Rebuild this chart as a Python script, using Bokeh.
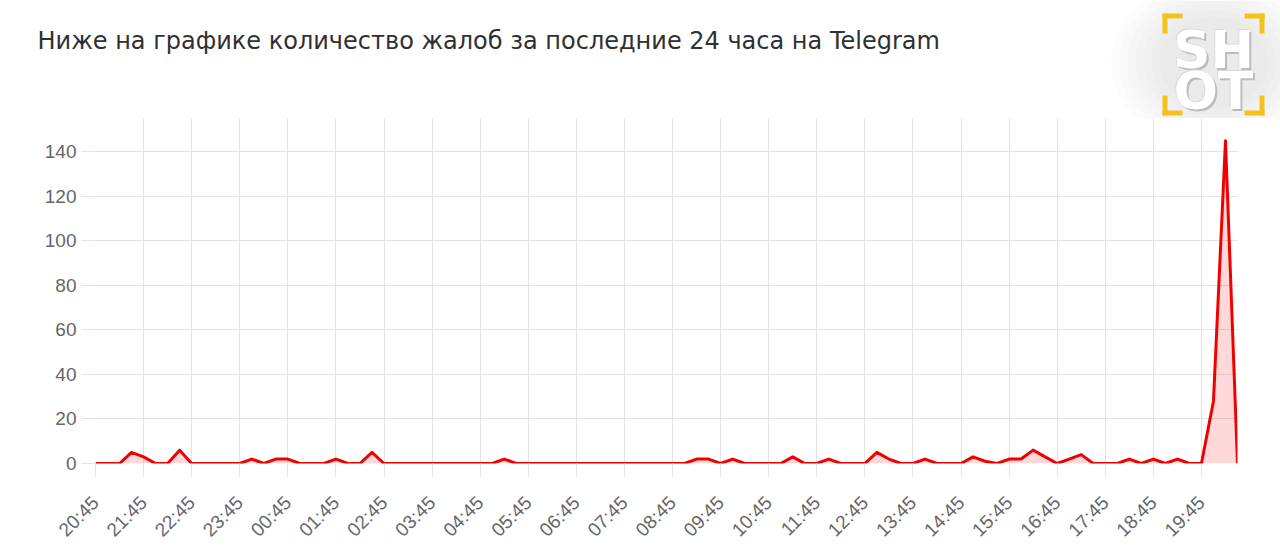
import math
from bokeh.plotting import figure
from bokeh.layouts import column
from bokeh.models import Label, FixedTicker, Range1d, ColumnDataSource
from bokeh.embed import file_html
from bokeh.resources import INLINE

# ---------------- data ----------------
title_text = "Ниже на графике количество жалоб за последние 24 часа на Telegram"
logo_lines = ["SH", "OT"]

hour_labels = ["20:45", "21:45", "22:45", "23:45", "00:45", "01:45", "02:45", "03:45",
               "04:45", "05:45", "06:45", "07:45", "08:45", "09:45", "10:45", "11:45",
               "12:45", "13:45", "14:45", "15:45", "16:45", "17:45", "18:45", "19:45"]

# complaints per 15-minute step, starting 20:45
complaints = [0, 0, 0, 5, 3, 0, 0, 6,        # 20:45 - 22:30
              0, 0, 0, 0, 0, 2, 0, 2,        # 22:45 - 00:30
              2, 0, 0, 0, 2, 0, 0, 5,        # 00:45 - 02:30
              0, 0, 0, 0, 0, 0, 0, 0,        # 02:45 - 04:30
              0, 0, 2, 0, 0, 0, 0, 0,        # 04:45 - 06:30
              0, 0, 0, 0, 0, 0, 0, 0,        # 06:45 - 08:30
              0, 0, 2, 2, 0, 2, 0, 0,        # 08:45 - 10:30
              0, 0, 3, 0, 0, 2, 0, 0,        # 10:45 - 12:30
              0, 5, 2, 0, 0, 2, 0, 0,        # 12:45 - 14:30
              0, 3, 1, 0, 2, 2, 6, 3,        # 14:45 - 16:30
              0, 2, 4, 0, 0, 0, 2, 0,        # 16:45 - 18:30
              2, 0, 2, 0, 0, 28, 145, 0]     # 18:45 - 20:30

steps_per_hour = 4
y_ticks = [0, 20, 40, 60, 80, 100, 120, 140]

W = 1280
HEAD_H = 118
CHART_H = 550 - HEAD_H

# ---------------- header: title + logo (pixel coordinates, y downwards) ----------------
head = figure(width=W, height=HEAD_H, output_backend="svg", toolbar_location=None,
              x_range=Range1d(0, W), y_range=Range1d(HEAD_H, 0),
              x_axis_type=None, y_axis_type=None,
              min_border_left=0, min_border_right=0, min_border_top=0, min_border_bottom=0)
head.frame_align = False
head.outline_line_color = None
head.grid.visible = False
head.background_fill_color = "white"
head.border_fill_color = "white"

head.add_layout(Label(x=37, y=40, text=title_text, text_font="DejaVu Sans",
                      text_font_size="24px", text_color="#303030",
                      text_baseline="alphabetic"))

# soft grey glow behind the logo
cx, cy = 1213, 62
for k in range(7):
    head.ellipse(x=cx, y=cy, width=205 - k * 16, height=170 - k * 13,
                 fill_color="black", fill_alpha=0.012, line_color=None)

# yellow corner brackets
YEL = "#f3c21b"
L, T = 20, 5
x0, x1, y0, y1 = 1162, 1264, 13, 115
arms_left = [x0, x0, x1 - L, x1 - T, x0, x0, x1 - L, x1 - T]
arms_right = [x0 + L, x0 + T, x1, x1, x0 + L, x0 + T, x1, x1]
arms_top = [y0, y0, y0, y0, y1 - T, y1 - L, y1 - T, y1 - L]
arms_bottom = [y0 + T, y0 + L, y0 + T, y0 + L, y1, y1, y1, y1]
head.quad(left=arms_left, right=arms_right, top=arms_top, bottom=arms_bottom,
          fill_color=YEL, line_color=None)

for txt, base in zip(logo_lines, (49, 90)):
    for dx, dy, col in ((2, 2, "#bcbcbc"), (-1, -1, "#dadada"), (0, 0, "white")):
        head.add_layout(Label(x=1213 + dx, y=base + dy, text=txt, text_font="DejaVu Sans",
                              text_font_style="bold", text_font_size="52px",
                              text_color=col, text_align="center",
                              text_baseline="alphabetic"))

# ---------------- chart ----------------
steps = list(range(len(complaints)))
src = ColumnDataSource(dict(x=steps, y=complaints, base=[0] * len(complaints)))

GRID = "#e3e3e3"
LABEL_FONT = "Liberation Sans"

p = figure(width=W, height=CHART_H, output_backend="svg", toolbar_location=None,
           x_range=Range1d(0, len(complaints) - 1), y_range=Range1d(0, 155),
           min_border_left=95, min_border_right=43, min_border_top=0, min_border_bottom=84)
p.frame_align = False
p.outline_line_color = None
p.background_fill_color = "white"
p.border_fill_color = "white"

x_ticks = [i * steps_per_hour for i in range(len(hour_labels))]
p.xaxis.ticker = FixedTicker(ticks=x_ticks)
p.xaxis.major_label_overrides = {t: lab for t, lab in zip(x_ticks, hour_labels)}
p.yaxis.ticker = FixedTicker(ticks=y_ticks)
p.xgrid.ticker = FixedTicker(ticks=x_ticks)
p.ygrid.ticker = FixedTicker(ticks=y_ticks)
p.xgrid.grid_line_color = GRID
p.ygrid.grid_line_color = GRID

for ax in (p.xaxis, p.yaxis):
    ax.axis_line_color = None
    ax.major_tick_in = 0
    ax.major_tick_out = 14
    ax.major_tick_line_color = GRID
    ax.minor_tick_line_color = None
    ax.major_label_text_font = LABEL_FONT
    ax.major_label_text_font_size = "19px"
    ax.major_label_text_color = "#666666"
p.yaxis.major_label_standoff = 5
p.xaxis.major_label_orientation = math.pi / 4
p.xaxis.major_label_standoff = 22

p.varea(x="x", y1="base", y2="y", source=src, fill_color="#ff0000", fill_alpha=0.15)
p.line(x="x", y="y", source=src, line_color="#f00000", line_width=3, line_join="round")

layout = column(head, p, spacing=0)
open("out.html", "w").write(file_html(layout, INLINE))
